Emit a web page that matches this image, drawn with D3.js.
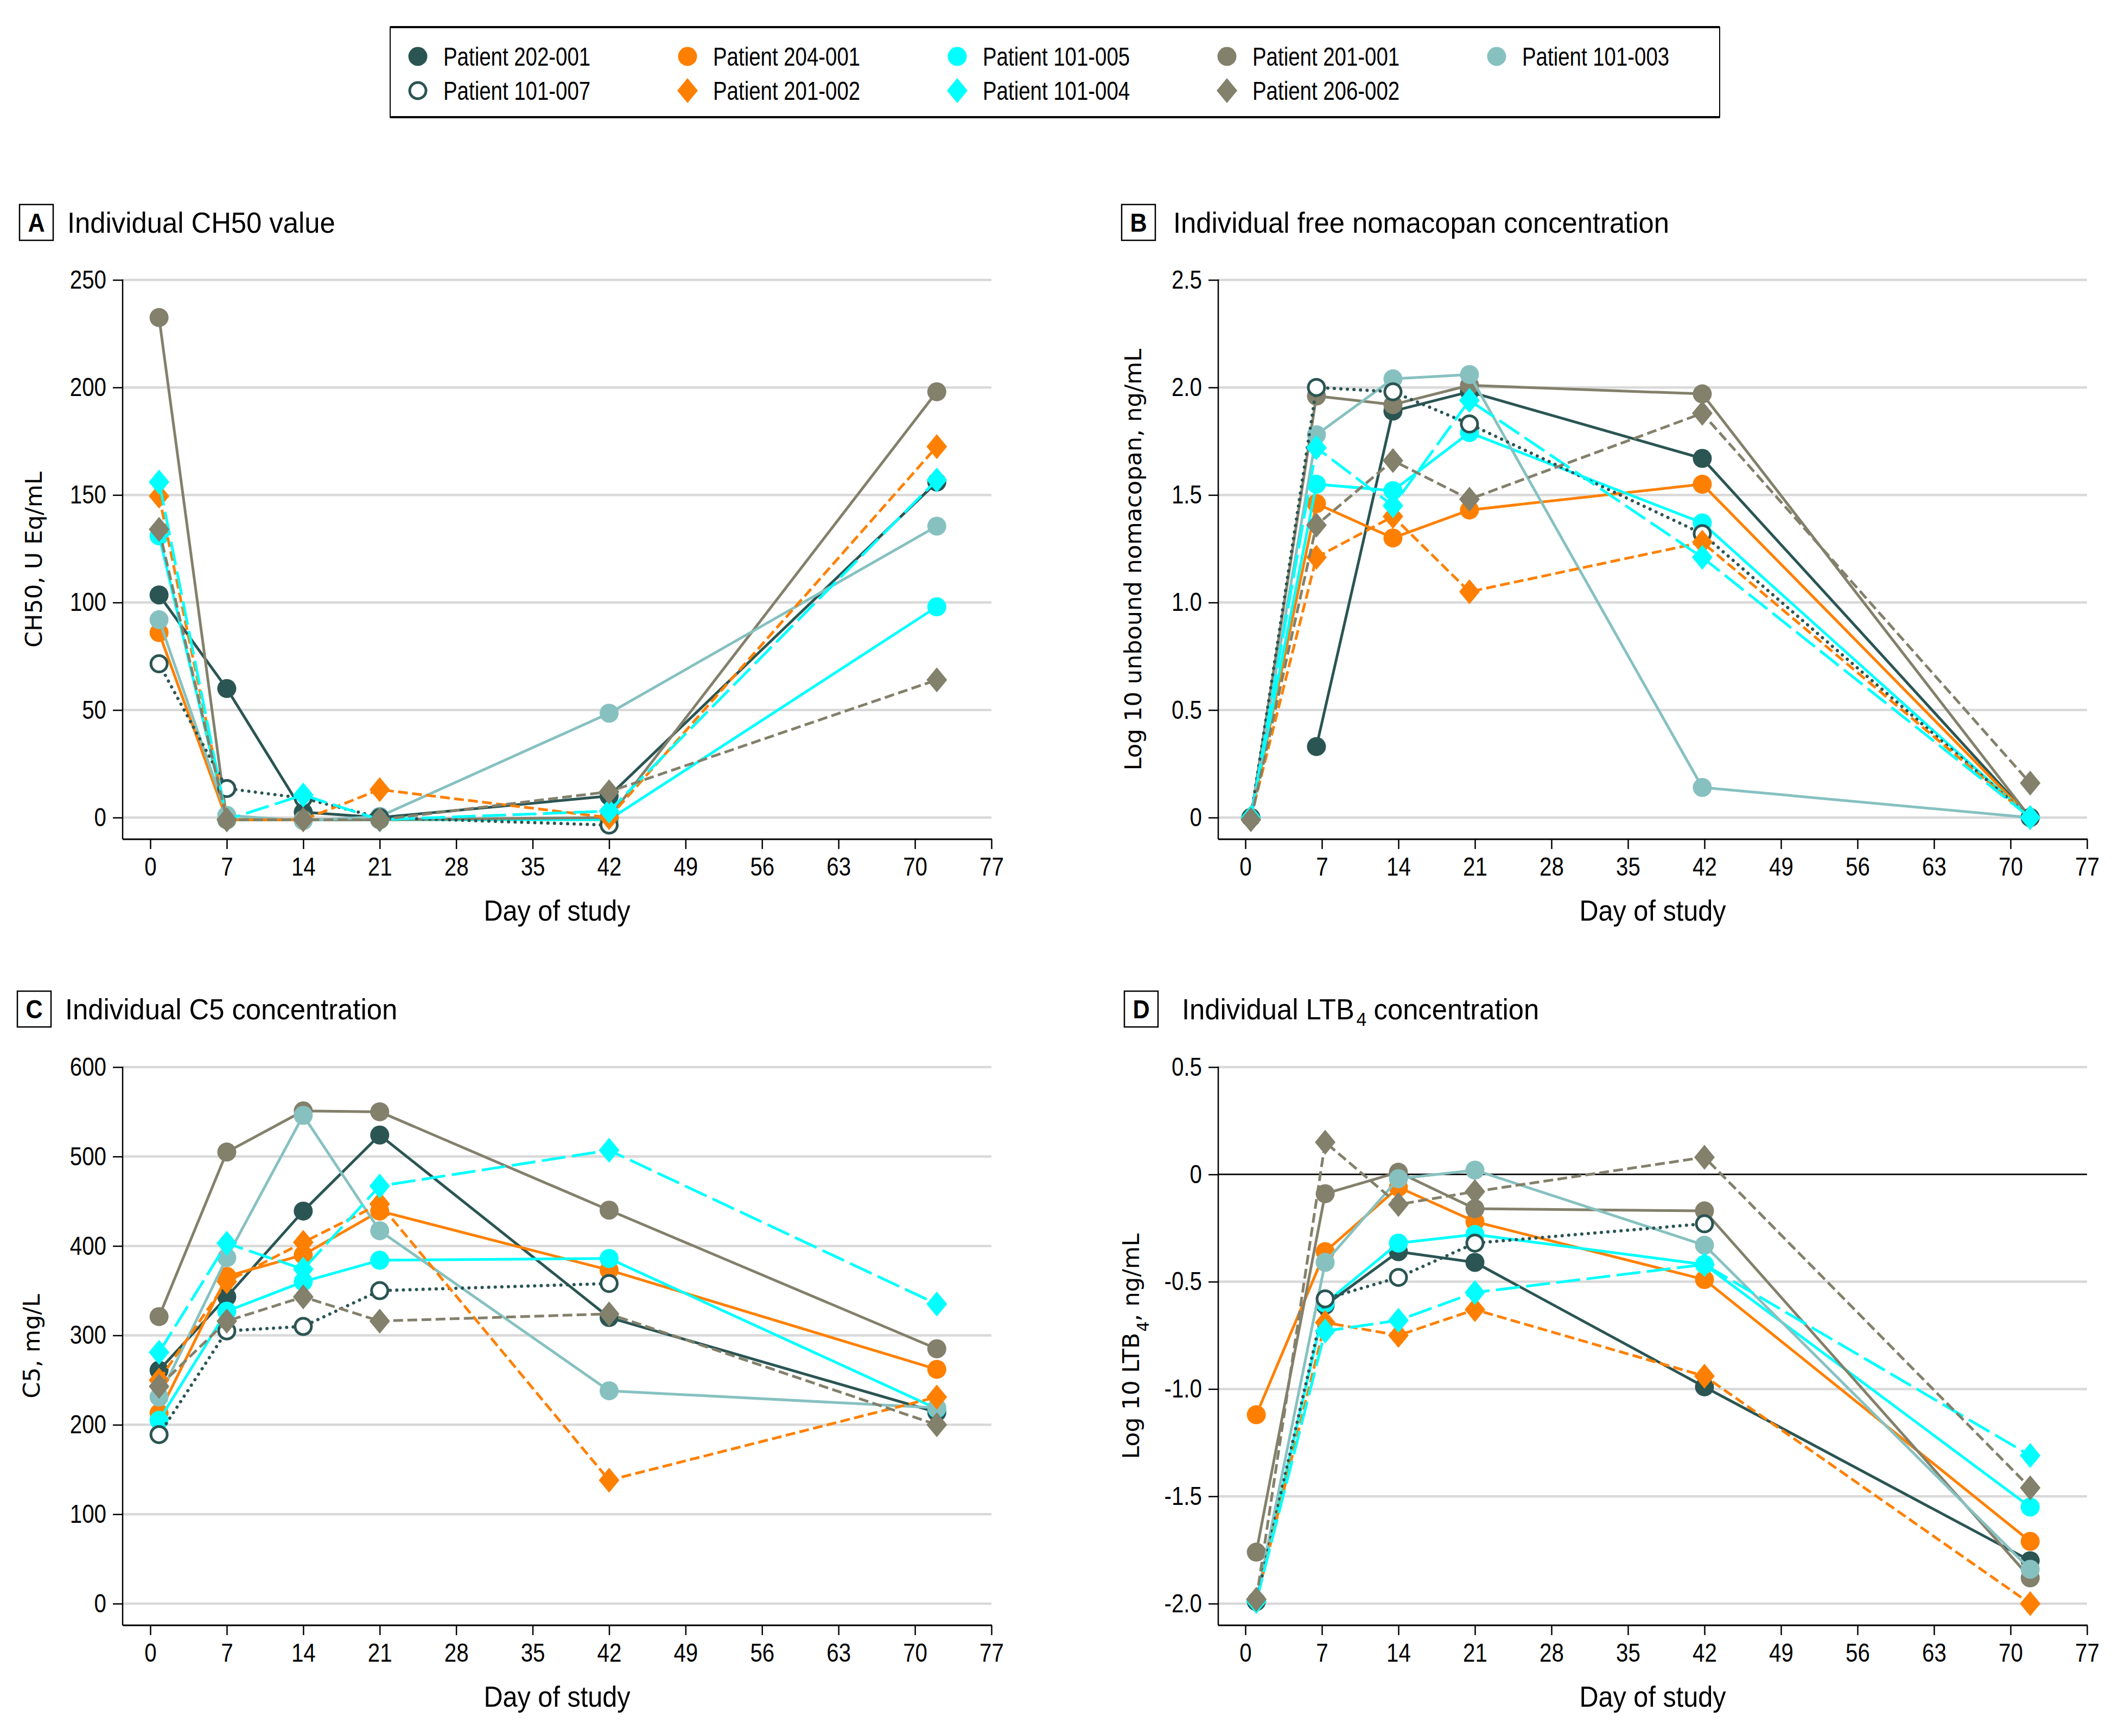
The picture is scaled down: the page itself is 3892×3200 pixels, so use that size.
<!DOCTYPE html>
<html><head><meta charset="utf-8">
<script src="https://cdn.jsdelivr.net/npm/d3@7"></script>
<style>
html,body{margin:0;padding:0;background:#fff;}
svg{display:block;}
.cond,.condt{font-family:"Liberation Sans Narrow","Arial Narrow","Liberation Sans",Arial,sans-serif;}
.wide{font-family:"DejaVu Sans",Verdana,sans-serif;}
</style></head><body>
<svg id="chart" width="3892" height="3200"></svg>
<script>
// ---------------- DATA ----------------
const patients = ["202-001","204-001","101-005","201-001","101-003","101-007","201-002","101-004","206-002"];
const daysA = [0.8, 7, 14, 21, 42, 72];
const daysB = [0.5, 6.5, 13.5, 20.5, 41.8, 71.8];
const daysC = [0.8, 7, 14, 21, 42, 72];
const daysD = [1, 7.3, 14, 21, 42, 71.8];
// rows follow the patients array
const ch50 = [
  [103.5, 60, 2.5, 0, 10, 156],
  [86, -1, -1, -1, -1, null],
  [131, -1, -1, -1, -1, 98],
  [232.5, -1, -1, -1, 0, 198],
  [92, 1, -1.5, 0.5, 48.5, 135.5],
  [71.5, 13.5, 9, 0, -3.5, null],
  [149.5, -1, -1, 13, 0, 172.5],
  [156, -1, 10.5, -1, 3, 157],
  [134, -1, -1, -1, 12, 64]
];
const nomacopan = [
  [null, 0.33, 1.89, 1.98, 1.67, 0],
  [0, 1.46, 1.30, 1.43, 1.55, 0],
  [0, 1.55, 1.52, 1.79, 1.37, 0],
  [0, 1.96, 1.92, 2.01, 1.97, 0],
  [0, 1.78, 2.04, 2.06, 0.14, 0],
  [0, 2.00, 1.98, 1.83, 1.32, 0],
  [0, 1.21, 1.40, 1.05, 1.28, 0],
  [0, 1.72, 1.45, 1.94, 1.21, 0],
  [-0.01, 1.36, 1.66, 1.48, 1.88, 0.16]
];
const c5 = [
  [261, 343, 439, 524, 320, 214],
  [213, 366, 390, 439, 373, 262],
  [205, 327, 360, 384, 386, 218],
  [321, 505, 551, 550, 440, 285],
  [231, 387, 546, 417, 238, 219],
  [189, 305, 310, 350, 358, null],
  [250, 360, 404, 447, 138, 231],
  [281, 403, 374, 467, 507, 335],
  [243, 316, 343, 316, 324, 200]
];
const ltb4 = [
  [null, -0.61, -0.36, -0.41, -0.99, -1.80],
  [-1.12, -0.36, -0.06, -0.22, -0.49, -1.71],
  [-1.99, -0.60, -0.32, -0.28, -0.42, -1.55],
  [-1.76, -0.09, 0.01, -0.16, -0.17, -1.88],
  [-1.99, -0.41, -0.02, 0.02, -0.33, -1.84],
  [-1.99, -0.58, -0.48, -0.32, -0.23, null],
  [-1.99, -0.69, -0.75, -0.63, -0.94, -2.00],
  [-1.99, -0.73, -0.68, -0.55, -0.42, -1.31],
  [-1.98, 0.15, -0.14, -0.08, 0.08, -1.46]
];
const xTicks = [0, 7, 14, 21, 28, 35, 42, 49, 56, 63, 70, 77];
const yTicksA = [0, 50, 100, 150, 200, 250];
const yLabelsA = ["0", "50", "100", "150", "200", "250"];
const yTicksB = [0, 0.5, 1, 1.5, 2, 2.5];
const yLabelsB = ["0", "0.5", "1.0", "1.5", "2.0", "2.5"];
const yTicksC = [0, 100, 200, 300, 400, 500, 600];
const yLabelsC = ["0", "100", "200", "300", "400", "500", "600"];
const yTicksD = [-2, -1.5, -1, -0.5, 0, 0.5];
const yLabelsD = ["-2.0", "-1.5", "-1.0", "-0.5", "0", "0.5"];

// ---------------- STYLES ----------------
const C_DARK = "#2a5553", C_OR = "#ff8000", C_CY = "#00ffff", C_GR = "#83806b", C_LT = "#86c1c0";
const styles = {
  "202-001": {color: C_DARK, shape: "circle", dash: null},
  "204-001": {color: C_OR, shape: "circle", dash: null},
  "101-005": {color: C_CY, shape: "circle", dash: null},
  "201-001": {color: C_GR, shape: "circle", dash: null},
  "101-003": {color: C_LT, shape: "circle", dash: null},
  "101-007": {color: C_DARK, shape: "open", dash: "dot"},
  "201-002": {color: C_OR, shape: "diamond", dash: "short"},
  "101-004": {color: C_CY, shape: "diamond", dash: "long"},
  "206-002": {color: C_GR, shape: "diamond", dash: "short"}
};
const dashMap = {short: "18,8", long: "44,12", dot: "0.1,12"};

const svg = d3.select("#chart");
svg.append("rect").attr("width", 3892).attr("height", 3200).attr("fill", "#fff");

function drawMarker(g, shape, color, x, y) {
  if (shape === "circle") {
    g.append("circle").attr("cx", x).attr("cy", y).attr("r", 17.5).attr("fill", color);
  } else if (shape === "open") {
    g.append("circle").attr("cx", x).attr("cy", y).attr("r", 15).attr("fill", "#fff")
      .attr("stroke", color).attr("stroke-width", 5);
  } else {
    g.append("path").attr("transform", `translate(${x},${y})`)
      .attr("d", "M0,-23L19,0L0,23L-19,0Z").attr("fill", color);
  }
}

// ---------------- LEGEND ----------------
const leg = svg.append("g");
leg.append("rect").attr("x", 719).attr("y", 50).attr("width", 2450).attr("height", 166)
  .attr("fill", "none").attr("stroke", "#000").attr("stroke-width", 2);
leg.append("line").attr("x1", 719).attr("x2", 3169).attr("y1", 50).attr("y2", 50).attr("stroke", "#000").attr("stroke-width", 4);
leg.append("line").attr("x1", 719).attr("x2", 3169).attr("y1", 216).attr("y2", 216).attr("stroke", "#000").attr("stroke-width", 4);
patients.forEach((p, i) => {
  const row = i < 5 ? 0 : 1, col = i < 5 ? i : i - 5;
  const cx = 770 + col * 497, cy = 104 + row * 63;
  const s = styles[p];
  drawMarker(leg, s.shape, s.color, cx, cy);
  leg.append("text").attr("class", "cond").attr("data-f", 0.8).attr("x", cx + 47).attr("y", cy + 17)
    .attr("font-size", 48).attr("fill", "#000").text("Patient " + p);
});

// ---------------- PANELS ----------------
function panel(cfg) {
  const g = svg.append("g");
  const x = d3.scaleLinear().domain([0, 77]).range([cfg.x0, cfg.x77]);
  const y = d3.scaleLinear().domain(cfg.yDom).range(cfg.yRange);
  const left = cfg.left, right = cfg.x77, bottom = cfg.bottom, top = y(cfg.yDom[1]);

  // gridlines
  g.selectAll(".grid").data(cfg.yTicks).enter().append("line")
    .attr("x1", left).attr("x2", right).attr("y1", d => y(d)).attr("y2", d => y(d))
    .attr("stroke", "#d9d9d9").attr("stroke-width", 4.5);
  if (cfg.zeroLine) {
    g.append("line").attr("x1", left).attr("x2", right).attr("y1", y(0)).attr("y2", y(0))
      .attr("stroke", "#000").attr("stroke-width", 2.5);
  }

  // axes
  const ya = g.append("g").attr("transform", `translate(${left},0)`)
    .call(d3.axisLeft(y).tickValues(cfg.yTicks).tickFormat((d, i) => cfg.yLabels[i]).tickSize(18).tickPadding(12));
  ya.select(".domain").remove();
  ya.selectAll("line").attr("stroke-width", 2.5);
  ya.selectAll("text").attr("class", "cond").attr("data-f", 0.84).attr("font-size", 48).attr("fill", "#000");
  g.append("line").attr("x1", left).attr("x2", left).attr("y1", top - 1).attr("y2", bottom)
    .attr("stroke", "#000").attr("stroke-width", 2.5);

  const xa = g.append("g").attr("transform", `translate(0,${bottom})`)
    .call(d3.axisBottom(x).tickValues(xTicks).tickFormat(d3.format("d")).tickSize(18).tickPadding(15));
  xa.select(".domain").remove();
  xa.selectAll("line").attr("stroke-width", 2.5);
  xa.selectAll("text").attr("class", "cond").attr("data-f", 0.84).attr("font-size", 48).attr("fill", "#000");
  g.append("line").attr("x1", left).attr("x2", right + 1).attr("y1", bottom).attr("y2", bottom)
    .attr("stroke", "#000").attr("stroke-width", 3);

  g.append("text").attr("class", "cond").attr("data-f", 0.9).attr("x", (left + right) / 2).attr("y", bottom + 150)
    .attr("text-anchor", "middle").attr("font-size", 54).text("Day of study");

  // y label
  const yl = g.append("text").attr("class", "wide")
    .attr("transform", `translate(${cfg.ylabX},${(top + bottom) / 2}) rotate(-90)`)
    .attr("text-anchor", "middle").attr("font-size", 43).attr("dy", "0.36em");
  cfg.ylabel.forEach(part => {
    const t = yl.append("tspan").text(part.t);
    if (part.sub) t.attr("font-size", 30).attr("baseline-shift", "sub").attr("dx", 2);
  });

  // title (box letter + compressed title group)
  g.append("rect").attr("x", cfg.boxX).attr("y", cfg.titleY - 33).attr("width", 62).attr("height", 66)
    .attr("fill", "#fff").attr("stroke", "#000").attr("stroke-width", 2.5);
  g.append("text").attr("class", "cond").attr("data-f", 0.9).attr("x", cfg.boxX + 31).attr("y", cfg.titleY + 17)
    .attr("text-anchor", "middle").attr("font-size", 48).attr("font-weight", "bold").text(cfg.letter);
  const tt = g.append("g").attr("transform", `translate(${cfg.titleX},${cfg.titleY + 19}) scale(0.94,1)`);
  let tx = 0;
  cfg.title.forEach(part => {
    const t = tt.append("text").attr("class", "condt")
      .attr("x", tx).attr("y", part.sub ? 12 : 0)
      .attr("font-size", part.sub ? 36 : 54).attr("fill", "#000")
      .text(part.t);
    tx += t.node().getComputedTextLength() + (part.sub ? 14 : 4);
  });

  // series
  const line = d3.line().defined(d => d.v !== null).x(d => x(d.d)).y(d => y(d.v));
  patients.forEach((p, i) => {
    const s = styles[p];
    const pts = cfg.values[i].map((v, j) => ({d: cfg.days[j], v: v}));
    const sg = g.append("g");
    const path = sg.append("path").datum(pts).attr("d", line).attr("fill", "none")
      .attr("stroke", s.color).attr("stroke-width", s.dash === "dot" ? 6 : 5)
      .attr("stroke-linejoin", "round");
    if (s.dash) path.attr("stroke-dasharray", dashMap[s.dash]);
    if (s.dash === "dot") path.attr("stroke-linecap", "round");
    pts.filter(d => d.v !== null).forEach(d => drawMarker(sg, s.shape, s.color, x(d.d), y(d.v)));
  });
}

const LEFT1 = 226, X0_1 = 277, X77_1 = 1827;
const LEFT2 = 2245, X0_2 = 2295, X77_2 = 3846;

panel({letter: "A", title: [{t: "Individual CH50 value"}], boxX: 36, titleX: 124, titleY: 410,
  left: LEFT1, x0: X0_1, x77: X77_1, bottom: 1547, yDom: [0, 250], yRange: [1507, 516],
  yTicks: yTicksA, yLabels: yLabelsA, days: daysA, values: ch50, ylabX: 62,
  ylabel: [{t: "CH50, U Eq/mL"}]});
panel({letter: "B", title: [{t: "Individual free nomacopan concentration"}], boxX: 2067, titleX: 2162, titleY: 410,
  left: LEFT2, x0: X0_2, x77: X77_2, bottom: 1547, yDom: [0, 2.5], yRange: [1507, 516],
  yTicks: yTicksB, yLabels: yLabelsB, days: daysB, values: nomacopan, ylabX: 2088,
  ylabel: [{t: "Log 10 unbound nomacopan, ng/mL"}]});
panel({letter: "C", title: [{t: "Individual C5 concentration"}], boxX: 32, titleX: 120, titleY: 1860,
  left: LEFT1, x0: X0_1, x77: X77_1, bottom: 2996, yDom: [0, 600], yRange: [2956, 1967],
  yTicks: yTicksC, yLabels: yLabelsC, days: daysC, values: c5, ylabX: 58,
  ylabel: [{t: "C5, mg/L"}]});
panel({letter: "D", title: [{t: "Individual LTB"}, {t: "4", sub: true}, {t: "concentration"}], boxX: 2072, titleX: 2178, titleY: 1860,
  left: LEFT2, x0: X0_2, x77: X77_2, bottom: 2996, yDom: [-2, 0.5], yRange: [2956, 1967],
  yTicks: yTicksD, yLabels: yLabelsD, days: daysD, values: ltb4, ylabX: 2084, zeroLine: true,
  ylabel: [{t: "Log 10 LTB"}, {t: "4", sub: true}, {t: ", ng/mL"}]});

// emulate the condensed typeface: compress each condensed label horizontally
d3.selectAll("text.cond").each(function() {
  const f = +this.getAttribute("data-f") || 0.85;
  const L = this.getComputedTextLength();
  if (L > 0) {
    this.setAttribute("textLength", (L * f).toFixed(1));
    this.setAttribute("lengthAdjust", "spacingAndGlyphs");
  }
});
</script>
</body></html>
